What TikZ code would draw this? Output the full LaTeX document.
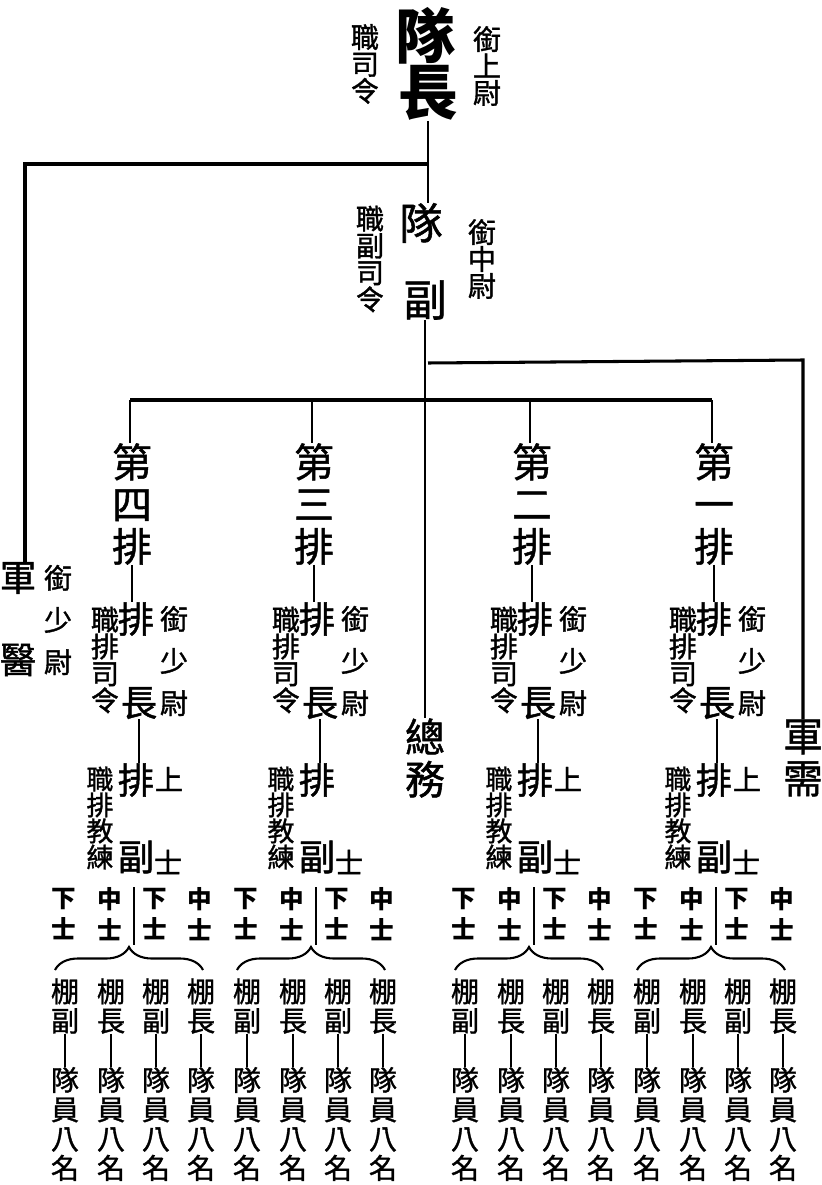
\documentclass[tikz,border=0pt]{standalone}
\usepackage{fontspec}
\newfontfamily\cjk{Noto Sans CJK TC}
\newfontfamily\cjkm{Noto Sans CJK TC}[FakeBold=1.2]
\usetikzlibrary{decorations.pathreplacing}

\begin{document}
\begin{tikzpicture}[x=0.03cm, y=-0.03cm,
		every node/.style={inner sep=0pt, align=center},
		huge/.style={font=\cjk\bfseries\fontsize{51}{51}\selectfont},
		big/.style={font=\cjkm\fontsize{37}{37}\selectfont},
		di/.style={font=\cjkm\fontsize{34}{36}\selectfont},
		mid/.style={font=\cjkm\fontsize{31}{31}\selectfont},
		sm/.style={font=\cjkm\fontsize{24}{23}\selectfont},
		smt/.style={font=\cjkm\fontsize{23}{21}\selectfont},
		xr/.style={font=\cjkm\fontsize{24}{36}\selectfont},
		tiny/.style={font=\cjk\bfseries\fontsize{21}{26.5}\selectfont},
		bot/.style={font=\cjkm\fontsize{24}{25}\selectfont},
		link/.style={line width=1.4pt},
		bar/.style={line width=2.6pt},
		brc/.style={line width=1.8pt, decorate, decoration={brace, amplitude=0.69cm}}]
			%%%%% START %%%%%
			
			\useasboundingbox[fill=white] (0,0) rectangle (822,1185);
			
			% captain
			\node[huge] (dz) at (425,36) {隊};
			\node[huge] (zhang) at (428,93) {長};
			\node[sm] (zhisi) at (365,64) {職\\司\\令};
			\node[sm] (xian1) at (487,66) {銜\\上\\尉};
			
			% vice captain
			\node[big] (dui2) at (421,223) {隊};
			\node[big] (fu) at (425,300) {副};
			\node[sm] (zhifu) at (370,259) {職\\副\\司\\令};
			\node[sm] (xian2) at (482,259) {銜\\中\\尉};
			
			% medic, quartermaster, general affairs
			\node[mid] (jun) at (18,578) {軍};
			\node[mid] (yi) at (18,660) {醫};
			\node[xr] (xy) at (58,620) {銜\\少\\尉};
			\node[di] (xu) at (803,758) {軍\\需};
			\node[di] (zw) at (425,758) {總\\務};
			
			\coordinate (tr) at (428,164);
			\coordinate (tl) at (25,164);
			\coordinate (ra) at (428,363);
			\coordinate (rb) at (803,360);
			
			\draw[link] (zhang.south) -- (zhang.south |- dui2.north);
			\draw[bar] (tr) -- (tl) -- (tl |- jun.north);
			\draw[link] (fu.south) -- (fu.south |- zw.north);
			\draw[bar] (ra) -- (rb) -- (rb |- xu.north);
			
			% platoons
			\foreach \x/\b/\nm/\up/\i in {130/136/四/上/4, 312/317/三/{}/3, 530/535/二/上/2, 712/714/一/上/1} {
				\coordinate (d\i) at (\x,400);
				\node[di] (c\i) at (\x+2,504) {第\\\nm\\排};
				\draw[link] (d\i) -- (d\i |- c\i.north);
				
				\node[mid] (pa\i) at (\b,619) {排};
				\node[mid] (pz\i) at (\b+3,703) {長};
				\node[sm] (zl\i) at (\b-31,660) {職\\排\\司\\令};
				\node[xr] (xl\i) at (\b+38,661) {銜\\少\\尉};
				\draw[link] (c\i.south) -- (c\i.south |- pa\i.north);
				
				\node[mid] (pb\i) at (\b,780) {排};
				\node[sm] (sh\i) at (\b+33,779) {\up};
				\node[smt] (zj\i) at (\b-36,818) {職\\排\\教\\練};
				\node[mid] (fb\i) at (\b,857) {副};
				\node[sm] (sb\i) at (\b+32,862) {士};
				\draw[link] (pz\i.south) -- (pz\i.south |- pb\i.north);
				
				\coordinate (w\i) at (\x+4,887);
				\coordinate (v\i) at (\x+4,945);
				\draw[link] (w\i) -- (v\i);
				\coordinate (bl\i) at (\x-75,970);
				\coordinate (br\i) at (\x+73,970);
				\draw[brc] (bl\i) -- (br\i);
				
				\foreach \o/\t/\s/\j in {-66/下/副/a, -20/中/長/b, 25/下/副/c, 70/中/長/d} {
					\node[tiny] (s\i\j) at (\x+\o,914) {\t\\士};
					\node[bot] (g\i\j) at (\x+\o+1,1006) {棚\\\s};
					\node[bot] (m\i\j) at (\x+\o+1,1124) {隊\\員\\八\\名};
					\draw[link] (g\i\j) -- (m\i\j);
				}
			}
			\draw[bar] (d4) -- (d1);
			
			%%%%% END %%%%%
		\end{tikzpicture}
\end{document}
